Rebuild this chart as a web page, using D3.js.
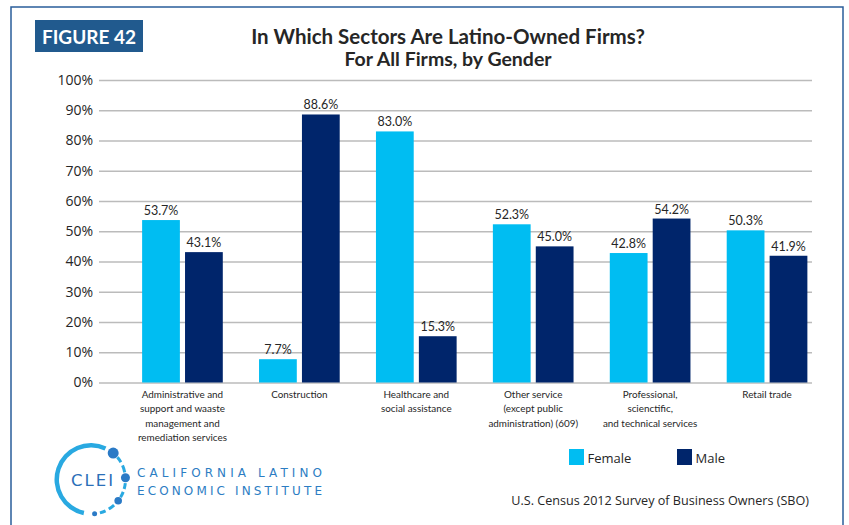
<!DOCTYPE html>
<html>
<head>
<meta charset="utf-8">
<script src="https://cdn.jsdelivr.net/npm/d3@7"></script>
<style>
  body { margin: 0; background: #fff; }
  svg { display: block; }
</style>
</head>
<body>
<svg id="chart" width="849" height="525"></svg>
<script>
// ---- data ----
const categories = [
  "Administrative and support and waaste management and remediation services",
  "Construction",
  "Healthcare and social assistance",
  "Other service (except public administration) (609)",
  "Professional, scienctific, and technical services",
  "Retail trade"
];
const categoryLines = [
  ["Administrative and", "support and waaste", "management and", "remediation services"],
  ["Construction"],
  ["Healthcare and", "social assistance"],
  ["Other service", "(except public", "administration) (609)"],
  ["Professional,", "scienctific,", "and technical services"],
  ["Retail trade"]
];
const seriesNames = ["Female", "Male"];
const femaleValues = [53.7, 7.7, 83.0, 52.3, 42.8, 50.3];
const maleValues = [43.1, 88.6, 15.3, 45.0, 54.2, 41.9];
const yTicks = [0, 10, 20, 30, 40, 50, 60, 70, 80, 90, 100];
const colors = { Female: "#00BDF2", Male: "#00256B" };

const svg = d3.select("#chart");
svg.append("rect").attr("width", 849).attr("height", 525).attr("fill", "#fff");

// frame
svg.append("path")
  .attr("d", "M11,525 L11,7 L843,7 L843,525")
  .attr("fill", "none").attr("stroke", "#2A5D9A").attr("stroke-width", 1.5);

// figure label
svg.append("rect").attr("x", 35).attr("y", 20).attr("width", 108).attr("height", 32).attr("fill", "#215A8E");
svg.append("text").attr("x", 89).attr("y", 43.5).attr("text-anchor", "middle")
  .attr("font-family", "Lato, 'Open Sans', sans-serif").attr("font-weight", 700)
  .attr("font-size", 19).attr("fill", "#fff").text("FIGURE 42");

// titles
svg.append("text").attr("x", 448).attr("y", 44).attr("text-anchor", "middle")
  .attr("font-family", "Lato, sans-serif").attr("font-weight", 700)
  .attr("font-size", 20.5).attr("fill", "#262626")
  .text("In Which Sectors Are Latino-Owned Firms?");
svg.append("text").attr("x", 448).attr("y", 66).attr("text-anchor", "middle")
  .attr("font-family", "Lato, sans-serif").attr("font-weight", 700)
  .attr("font-size", 19.5).attr("fill", "#262626")
  .text("For All Firms, by Gender");

// scales
const y = d3.scaleLinear().domain([0, 100]).range([382.5, 80]);
const x0 = d3.scaleBand().domain(categories).range([124, 825.5]).paddingInner(0.31).paddingOuter(0.155);
const x1 = d3.scaleBand().domain(seriesNames).range([0, x0.bandwidth()]).paddingInner(0.12);

// grid + y axis
const gridLeft = 99, gridRight = 812;
const yAxis = svg.append("g").attr("transform", `translate(${gridLeft},0)`)
  .call(d3.axisLeft(y).tickValues(yTicks).tickSize(-(gridRight - gridLeft)).tickPadding(6).tickFormat(d => d + "%"));
yAxis.select(".domain").remove();
yAxis.selectAll(".tick line").attr("stroke", "#BBBBBB").attr("stroke-width", 1.5);
yAxis.selectAll(".tick text").attr("font-family", "'Open Sans', sans-serif").attr("font-size", 14).attr("fill", "#262626");

// bars
const groups = svg.append("g").selectAll("g")
  .data(categories.map((c, i) => ({ c, i })))
  .join("g").attr("transform", d => `translate(${x0(d.c)},0)`);

groups.each(function (d) {
  const vals = [ { s: "Female", v: femaleValues[d.i] }, { s: "Male", v: maleValues[d.i] } ];
  const g = d3.select(this);
  g.selectAll("rect").data(vals).join("rect")
    .attr("x", v => x1(v.s)).attr("width", x1.bandwidth())
    .attr("y", v => y(v.v)).attr("height", v => y(0) - y(v.v))
    .attr("fill", v => colors[v.s]);
  g.selectAll("text.val").data(vals).join("text").attr("class", "val")
    .attr("x", v => x1(v.s) + x1.bandwidth() / 2).attr("y", v => y(v.v) - 5)
    .attr("text-anchor", "middle").attr("font-family", "Lato, sans-serif")
    .attr("font-size", 12.5).attr("fill", "#262626")
    .text(v => v.v.toFixed(1) + "%");
});

// category labels
const catLabels = svg.append("g").selectAll("text")
  .data(categories.map((c, i) => ({ c, i })))
  .join("text")
  .attr("x", d => x0(d.c) + x0.bandwidth() / 2)
  .attr("y", 398)
  .attr("text-anchor", "middle").attr("font-family", "Lato, sans-serif")
  .attr("font-size", 9.9).attr("fill", "#262626");
catLabels.each(function (d) {
  const t = d3.select(this);
  categoryLines[d.i].forEach((line, k) => {
    t.append("tspan").attr("x", x0(d.c) + x0.bandwidth() / 2).attr("dy", k === 0 ? 0 : 14.3).text(line);
  });
});

// legend
const legendX = [569, 677];
seriesNames.forEach((s, i) => {
  svg.append("rect").attr("x", legendX[i]).attr("y", 449).attr("width", 15).attr("height", 16).attr("fill", colors[s]);
  svg.append("text").attr("x", legendX[i] + 18.5).attr("y", 462.5)
    .attr("font-family", "'Open Sans', sans-serif").attr("font-size", 13).attr("fill", "#262626").text(s);
});

// source
svg.append("text").attr("x", 809).attr("y", 505).attr("text-anchor", "end")
  .attr("font-family", "'Open Sans', sans-serif").attr("font-size", 12.6).attr("fill", "#262626")
  .text("U.S. Census 2012 Survey of Business Owners (SBO)");

// logo
const logo = svg.append("g").attr("transform", "translate(91,479.5)");
const deg = Math.PI / 180;
logo.append("path")
  .attr("d", d3.arc().innerRadius(32).outerRadius(36.5).startAngle(192 * deg).endAngle(385 * deg)())
  .attr("fill", "#29A9E1");
[[50, 60], [66, 78], [96, 106], [111, 121], [138, 149], [155, 165]].forEach(([a, b]) => {
  logo.append("path")
    .attr("d", d3.arc().innerRadius(33).outerRadius(36).startAngle(a * deg).endAngle(b * deg)())
    .attr("fill", "#29A9E1");
});
[[40, 5.5], [87, 4.5], [128, 3.8], [174, 2.5]].forEach(([a, r]) => {
  logo.append("circle")
    .attr("cx", 34.5 * Math.sin(a * deg)).attr("cy", -34.5 * Math.cos(a * deg)).attr("r", r)
    .attr("fill", "#2A7AC6");
});
logo.append("text").attr("x", 1).attr("y", 6.5).attr("text-anchor", "middle")
  .attr("font-family", "'DejaVu Sans', sans-serif").attr("font-size", 16.5)
  .attr("textLength", 42).attr("lengthAdjust", "spacing")
  .attr("fill", "#2B6FB8").text("CLEI");
svg.append("text").attr("x", 137).attr("y", 476.5)
  .attr("font-family", "'DejaVu Sans', sans-serif").attr("font-size", 12)
  .attr("textLength", 185).attr("lengthAdjust", "spacing")
  .attr("fill", "#2C7DC3").text("CALIFORNIA LATINO");
svg.append("text").attr("x", 137).attr("y", 495)
  .attr("font-family", "'DejaVu Sans', sans-serif").attr("font-size", 12)
  .attr("textLength", 185).attr("lengthAdjust", "spacing")
  .attr("fill", "#2C7DC3").text("ECONOMIC INSTITUTE");
</script>
</body>
</html>
